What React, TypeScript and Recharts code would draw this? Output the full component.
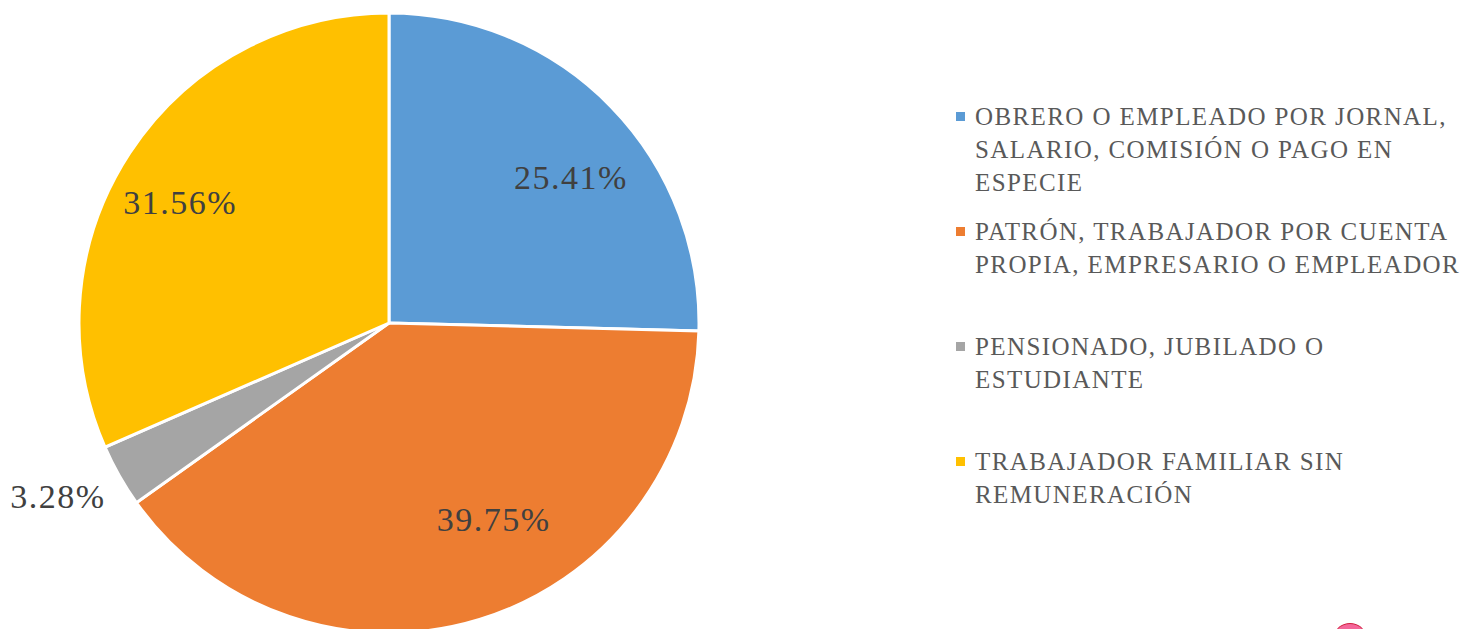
import React from 'react';
import { PieChart, Pie, Cell, Legend } from 'recharts';

const CATEGORIES = [
  'OBRERO O EMPLEADO POR JORNAL, SALARIO, COMISIÓN O PAGO EN ESPECIE',
  'PATRÓN, TRABAJADOR POR CUENTA PROPIA, EMPRESARIO O EMPLEADOR',
  'PENSIONADO, JUBILADO O ESTUDIANTE',
  'TRABAJADOR FAMILIAR SIN REMUNERACIÓN',
];
// legend lines as they wrap in the reference
const LEGEND_LINES = [
  ['OBRERO O EMPLEADO POR JORNAL,', 'SALARIO, COMISIÓN O PAGO EN', 'ESPECIE'],
  ['PATRÓN, TRABAJADOR POR CUENTA', 'PROPIA, EMPRESARIO O EMPLEADOR'],
  ['PENSIONADO, JUBILADO O', 'ESTUDIANTE'],
  ['TRABAJADOR FAMILIAR SIN', 'REMUNERACIÓN'],
];
const VALUES = [25.41, 39.75, 3.28, 31.56];

const COLORS = ['#5B9BD5', '#ED7D31', '#A5A5A5', '#FFC000'];
const FONT = '"Liberation Serif", "DejaVu Serif", serif';
const LABEL_COLOR = '#404040';
const LEGEND_COLOR = '#595959';

// label placement (best-fit style): distance from centre and angle nudge
const LABEL_RADIUS = [233, 223, 374, 241];
const LABEL_NUDGE = [-5.6, 11, -1.8, 3.2];

const RADIAN = Math.PI / 180;

const chartData = CATEGORIES.map((name, i) => ({ name, value: VALUES[i] }));

const renderLabel = (props: any) => {
  const { cx, cy, midAngle, index, value } = props;
  const a = (midAngle + LABEL_NUDGE[index]) * RADIAN;
  const r = LABEL_RADIUS[index];
  const x = cx + r * Math.cos(a);
  const y = cy - r * Math.sin(a);
  return (
    <text
      x={x}
      y={y}
      fill={LABEL_COLOR}
      textAnchor="middle"
      dominantBaseline="central"
      style={{ fontFamily: FONT, fontSize: 34, letterSpacing: 1.5 }}
    >
      {value.toFixed(2)}%
    </text>
  );
};

const renderLegend = () => (
  <div style={{ fontFamily: FONT, fontSize: 25, letterSpacing: 1.4, color: LEGEND_COLOR }}>
    {LEGEND_LINES.map((lines, i) => (
      <div key={i} style={{ height: 115, display: 'flex', alignItems: 'flex-start' }}>
        <span
          style={{
            width: 9,
            height: 9,
            background: COLORS[i],
            marginTop: 12,
            marginRight: 10,
            flexShrink: 0,
          }}
        />
        <div style={{ lineHeight: '33px' }}>
          {lines.map((l, j) => (
            <div key={j} style={{ whiteSpace: 'nowrap' }}>{l}</div>
          ))}
        </div>
      </div>
    ))}
  </div>
);

export default function App() {
  return (
    <div
      style={{
        position: 'absolute',
        left: 0,
        top: 0,
        width: 1471,
        height: 629,
        overflow: 'hidden',
        background: '#fff',
      }}
    >
      <PieChart width={1471} height={629} margin={{ top: 0, right: 0, bottom: 0, left: 0 }}>
        <Pie
          data={chartData}
          dataKey="value"
          cx={389}
          cy={323}
          outerRadius={310}
          startAngle={90}
          endAngle={-270}
          stroke="#fff"
          strokeWidth={3}
          label={renderLabel}
          labelLine={false}
          isAnimationActive={false}
        >
          {chartData.map((_, i) => (
            <Cell key={`cell-${i}`} fill={COLORS[i]} />
          ))}
        </Pie>
        <Legend
          content={renderLegend}
          wrapperStyle={{ left: 956, top: 100, width: 515 }}
        />
      </PieChart>
      <div
        style={{
          position: 'absolute',
          left: 1332,
          top: 623,
          width: 36,
          height: 36,
          borderRadius: '50%',
          background: '#F4679A',
          border: '1px solid #D0203E',
          boxSizing: 'border-box',
        }}
      />
    </div>
  );
}
